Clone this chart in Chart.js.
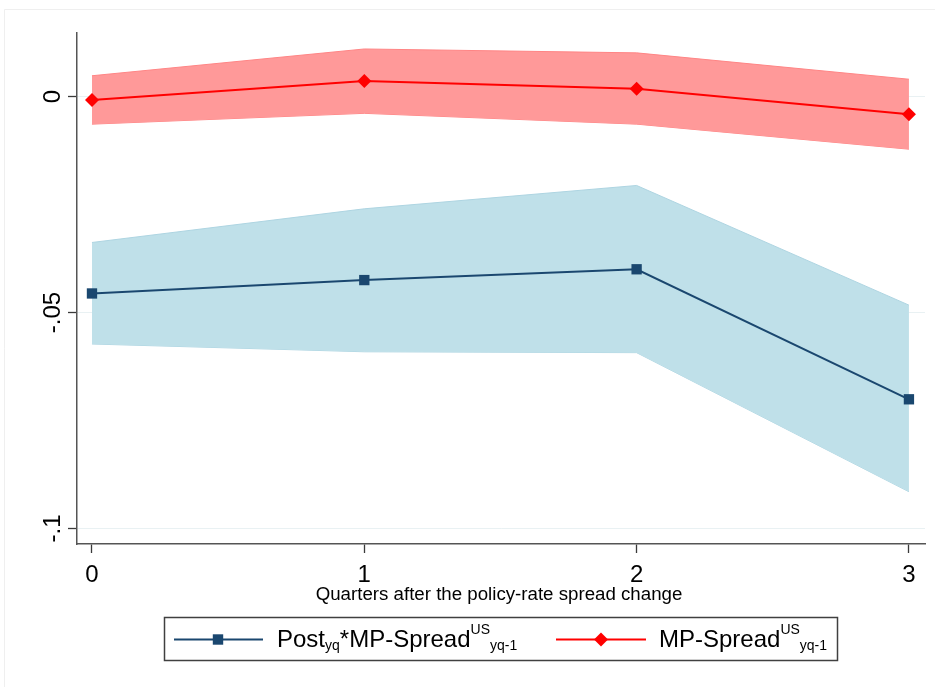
<!DOCTYPE html>
<html>
<head>
<meta charset="utf-8">
<script src="https://cdn.jsdelivr.net/npm/chart.js@4.4.1/dist/chart.umd.min.js"></script>
<style>
  html, body { margin: 0; padding: 0; background: #ffffff; }
  #wrap { width: 935px; height: 687px; position: relative; }
  canvas { display: block; }
</style>
</head>
<body>
<div id="wrap"><canvas id="c" width="935" height="687"></canvas></div>
<script>
// ---- data ----
const quarters = [0, 1, 2, 3];
const blueCoef  = [-0.0456, -0.0425, -0.0400, -0.0701];
const blueUpper = [-0.0338, -0.0260, -0.0206, -0.0483];
const blueLower = [-0.0573, -0.0591, -0.0593, -0.0915];
const redCoef   = [-0.0008, 0.0036, 0.0018, -0.0041];
const redUpper  = [0.0048, 0.0110, 0.0101, 0.0040];
const redLower  = [-0.0064, -0.0039, -0.0064, -0.0122];
const yTickValues = [-0.1, -0.05, 0];
const yTickLabels = ['-.1', '-.05', '0'];
const xTickValues = [0, 1, 2, 3];
const xTickLabels = ['0', '1', '2', '3'];
const xTitle = 'Quarters after the policy-rate spread change';
const legendBlueParts = [['Post', 'main'], ['yq', 'sub'], ['*MP-Spread', 'main'], ['US', 'sup'], ['yq-1', 'sub']];
const legendRedParts  = [['MP-Spread', 'main'], ['US', 'sup'], ['yq-1', 'sub']];

const FONT = "'Liberation Sans', Arial, Helvetica, sans-serif";
const NAVY = '#1a476f';
const RED = '#ff0000';

function pts(ys) { return quarters.map((q, i) => ({ x: q, y: ys[i] })); }

const decor = {
  id: 'decor',
  beforeDraw(chart) {
    const ctx = chart.ctx;
    ctx.save();
    ctx.fillStyle = '#ffffff';
    ctx.fillRect(0, 0, chart.width, chart.height);
    ctx.strokeStyle = '#efefef';
    ctx.lineWidth = 1;
    ctx.beginPath();
    ctx.moveTo(4.5, chart.height);
    ctx.lineTo(4.5, 9.5);
    ctx.lineTo(chart.width, 9.5);
    ctx.stroke();
    ctx.restore();
  },
  afterDraw(chart) {
    const ctx = chart.ctx;
    const xs = chart.scales.x, ys = chart.scales.y;
    ctx.save();
    ctx.fillStyle = '#000000';
    // y tick labels (rotated)
    ctx.font = '24px ' + FONT;
    ctx.textAlign = 'center';
    ctx.textBaseline = 'alphabetic';
    yTickValues.forEach((v, i) => {
      const py = ys.getPixelForValue(v);
      ctx.save();
      ctx.translate(59.5, py);
      ctx.rotate(-Math.PI / 2);
      ctx.fillText(yTickLabels[i], 0, 0);
      ctx.restore();
    });
    // x tick labels
    xTickValues.forEach((v, i) => {
      const px = xs.getPixelForValue(v);
      ctx.fillText(xTickLabels[i], px, 581.5);
    });
    // x title
    ctx.font = '18.7px ' + FONT;
    ctx.fillText(xTitle, (chart.chartArea.left + chart.chartArea.right) / 2 - 2, 600);

    // legend box
    ctx.strokeStyle = '#404040';
    ctx.lineWidth = 1.5;
    ctx.strokeRect(164.5, 617.5, 673, 43);

    // legend entry 1
    const ly = 639.5;
    ctx.strokeStyle = NAVY;
    ctx.lineWidth = 2;
    ctx.beginPath(); ctx.moveTo(174, ly); ctx.lineTo(263, ly); ctx.stroke();
    ctx.fillStyle = NAVY;
    ctx.fillRect(218 - 5.2, ly - 5.2, 10.4, 10.4);
    // legend entry 2
    ctx.strokeStyle = RED;
    ctx.beginPath(); ctx.moveTo(556, ly); ctx.lineTo(646, ly); ctx.stroke();
    ctx.fillStyle = RED;
    ctx.beginPath();
    ctx.moveTo(601, ly - 7); ctx.lineTo(608, ly); ctx.lineTo(601, ly + 7); ctx.lineTo(594, ly);
    ctx.closePath(); ctx.fill();

    ctx.fillStyle = '#000000';
    ctx.textAlign = 'left';
    function drawParts(parts, x0) {
      let x = x0;
      parts.forEach(([t, kind]) => {
        let size = 24, base = 647;
        if (kind === 'sub') { size = 14; base = 650; }
        if (kind === 'sup') { size = 14; base = 633.5; }
        ctx.font = size + 'px ' + FONT;
        ctx.fillText(t, x, base);
        x += ctx.measureText(t).width;
      });
    }
    drawParts(legendBlueParts, 277);
    drawParts(legendRedParts, 659);
    ctx.restore();
  }
};

const bandBlue = '#bfe0e9', bandBlueEdge = '#aed5e2';
const bandRed = '#ff9999', bandRedEdge = '#ff8585';

new Chart(document.getElementById('c'), {
  type: 'line',
  data: {
    datasets: [
      { label: 'blue', data: pts(blueCoef), borderColor: NAVY, borderWidth: 2,
        pointStyle: 'rect', pointRadius: 7.3, pointBackgroundColor: NAVY, pointBorderWidth: 0,
        fill: false, tension: 0 },
      { label: 'red', data: pts(redCoef), borderColor: RED, borderWidth: 2,
        pointStyle: 'rectRot', pointRadius: 7, pointBackgroundColor: RED, pointBorderWidth: 0,
        fill: false, tension: 0 },
      { label: 'blueUpper', data: pts(blueUpper), borderColor: bandBlueEdge, borderWidth: 1,
        pointRadius: 0, backgroundColor: bandBlue, fill: '+1', tension: 0 },
      { label: 'blueLower', data: pts(blueLower), borderColor: bandBlueEdge, borderWidth: 1,
        pointRadius: 0, fill: false, tension: 0 },
      { label: 'redUpper', data: pts(redUpper), borderColor: bandRedEdge, borderWidth: 1,
        pointRadius: 0, backgroundColor: bandRed, fill: '+1', tension: 0 },
      { label: 'redLower', data: pts(redLower), borderColor: bandRedEdge, borderWidth: 1,
        pointRadius: 0, fill: false, tension: 0 }
    ]
  },
  options: {
    responsive: false,
    animation: false,
    devicePixelRatio: 1,
    layout: { padding: { left: 68, top: 33, right: 10, bottom: 134 } },
    plugins: { legend: { display: false }, tooltip: { enabled: false } },
    scales: {
      x: {
        type: 'linear', min: -0.055, max: 3.059,
        afterBuildTicks: (s) => { s.ticks = xTickValues.map(v => ({ value: v })); },
        ticks: { display: false },
        grid: { drawOnChartArea: false, drawTicks: true, tickLength: 9, tickColor: '#3a3a3a', tickWidth: 1.3 },
        border: { display: true, color: '#555555', width: 1.5 }
      },
      y: {
        type: 'linear', min: -0.1036, max: 0.0147,
        afterBuildTicks: (s) => { s.ticks = yTickValues.map(v => ({ value: v })); },
        ticks: { display: false },
        grid: { color: '#e9f1f3', lineWidth: 1, drawTicks: true, tickLength: 9, tickColor: '#3a3a3a', tickWidth: 1.3 },
        border: { display: true, color: '#555555', width: 1.5 }
      }
    }
  },
  plugins: [decor]
});
</script>
</body>
</html>
